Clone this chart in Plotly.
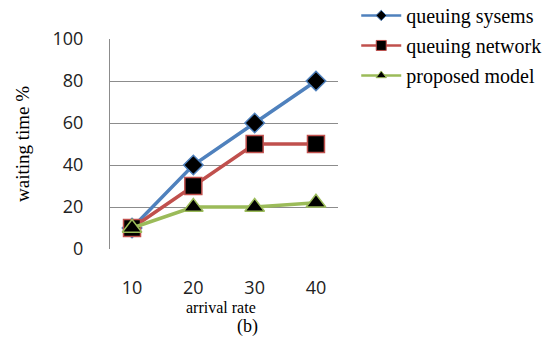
import plotly.graph_objects as go

categories = ["10", "20", "30", "40"]
queuing_systems = [10, 40, 60, 80]
queuing_network = [10, 30, 50, 50]
proposed_model = [10, 20, 20, 22]
y_ticks = [0, 20, 40, 60, 80, 100]

series = [
    ("queuing sysems", queuing_systems, "#4F81BD", "diamond", 15, 8),
    ("queuing network", queuing_network, "#C0504D", "square", 17, 10),
    ("proposed model", proposed_model, "#9BBB59", "triangle-up", 17, 9),
]

fig = go.Figure()
for name, vals, col, sym, size, lsize in series:
    fig.add_trace(go.Scatter(x=categories, y=vals, name=name, mode="lines+markers",
                             showlegend=False,
                             line=dict(color=col, width=3.5),
                             marker=dict(symbol=sym, size=size, color="black",
                                         line=dict(color=col, width=1.5))))
for name, vals, col, sym, size, lsize in series:
    fig.add_trace(go.Scatter(x=[None], y=[None], name=name, mode="lines+markers",
                             legendgroup=name,
                             line=dict(color=col, width=2.5),
                             marker=dict(symbol=sym, size=lsize, color="black",
                                         line=dict(color=col, width=1))))

fig.update_layout(
    width=544, height=345,
    margin=dict(l=110, r=206, t=39, b=96, autoexpand=False),
    paper_bgcolor="white", plot_bgcolor="white",
    showlegend=True,
    legend=dict(x=1.08, xanchor="left", y=1.205, yanchor="top",
                font=dict(family="Liberation Serif", size=20, color="black"),
                tracegroupgap=1, itemwidth=40, bgcolor="rgba(0,0,0,0)"),
    annotations=[
        dict(text="arrival rate", x=0.485, xref="paper", y=-0.278, yref="paper",
             yanchor="middle",
             showarrow=False, font=dict(family="Liberation Serif", size=16, color="black")),
        dict(text="(b)", x=0.605, xref="paper", y=-0.37, yref="paper", yanchor="middle",
             showarrow=False, font=dict(family="Liberation Serif", size=18, color="black")),
        dict(text="waiting time %", x=-0.386, xref="paper", xanchor="center",
             y=0.5, yref="paper",
             textangle=-90, showarrow=False,
             font=dict(family="Liberation Serif", size=19, color="black")),
    ],
)
fig.update_xaxes(type="category", showline=False, showgrid=False, zeroline=False,
                 ticks="", ticklabelstandoff=26,
                 tickfont=dict(family="Open Sans", size=18, color="#222"))
fig.update_yaxes(range=[0, 100], tickvals=y_ticks, showgrid=True, gridcolor="#8c8c8c",
                 gridwidth=1, showline=True, linecolor="#8c8c8c", linewidth=1,
                 zeroline=False, ticks="", ticklabelstandoff=22,
                 tickfont=dict(family="Open Sans", size=18, color="#222"))

fig.write_html("out.html", config={"displayModeBar": False},
               post_script="document.body.style.margin='0';")
